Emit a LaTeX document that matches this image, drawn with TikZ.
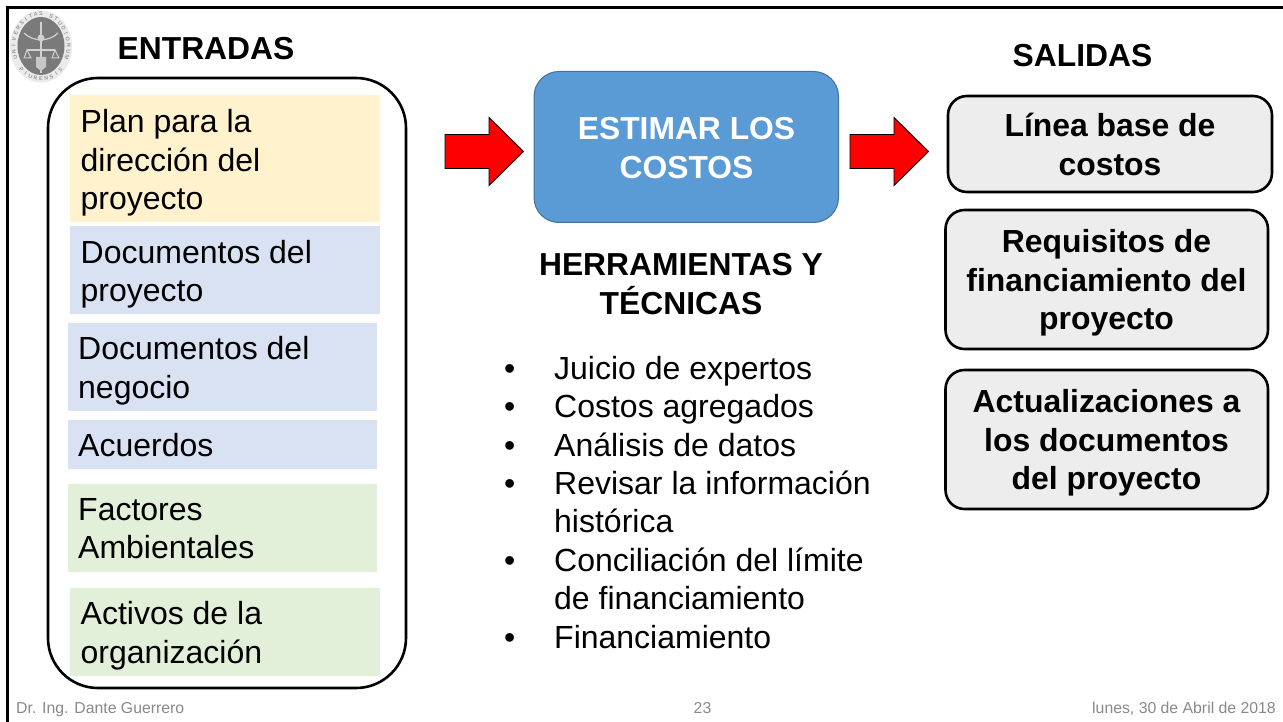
\documentclass[tikz,border=0pt]{standalone}
\usepackage{fontspec}
\setmainfont{Liberation Sans}
\definecolor{cyellow}{HTML}{FFF2CC}
\definecolor{cblue}{HTML}{D9E2F3}
\definecolor{cgreen}{HTML}{E2EFD9}
\definecolor{cmain}{HTML}{5B9BD5}
\definecolor{cmainb}{HTML}{41719C}
\definecolor{cout}{HTML}{EDEDED}
\definecolor{cfoot}{HTML}{898989}
\tikzset{
  x=1pt,y=-1pt,
  inputtext/.style={anchor=north west,inner sep=0pt,align=left,font=\fontsize{32}{38.5}\selectfont},
  outbox/.style={rounded corners=19pt,draw=black,line width=2.6pt,fill=cout},
  outtext/.style={align=center,font=\fontsize{31.9}{38.5}\selectfont\bfseries,inner sep=0pt},
  heading/.style={align=center,font=\fontsize{31.8}{38.5}\selectfont\bfseries,inner sep=0pt},
  redarrow/.style={fill=red,draw=black,line width=0.9pt,line join=miter},
  foot/.style={font=\fontsize{15.8}{19}\selectfont,text=cfoot,inner sep=0pt},
  bullettext/.style={anchor=base west,font=\fontsize{32}{38.5}\selectfont,inner sep=0pt},
  seal/.style={inner sep=0pt,font=\fontsize{5.5}{6}\selectfont\bfseries,text=black!40},
}
\begin{document}
\begin{tikzpicture}
\useasboundingbox (0,0) rectangle (1283,722);
\fill[white] (0,0) rectangle (1283,722);
% slide frame
\draw[line width=2.6pt,black] (7.5,722) -- (7.5,7.5) -- (1283,7.5);
% seal
\fill[black!8] (41,46.5) ellipse (31 and 36);
\fill[black!52] (41,46) ellipse (23.5 and 29);
\draw[black!18,line width=1.2pt] (41,22) -- (41,73);
\draw[black!18,line width=1.2pt] (24,33) .. controls (33,42) and (49,42) .. (58,33);
\draw[black!18,line width=1.2pt] (27,50) -- (55,50);
\draw[black!18,line width=1pt] (27,50) -- (24,58) -- (31,58) -- cycle;
\draw[black!18,line width=1pt] (55,50) -- (52,58) -- (59,58) -- cycle;
\fill[black!18] (41,38) circle (3.5);
\fill[black!22] (36,57) -- (46,57) -- (46,67) -- (41,71) -- (36,67) -- cycle;
\foreach \ch [count=\ii] in {U,N,I,V,E,R,S,I,T,A,S,{},S,T,U,D,I,O,R,U,M}{
  \pgfmathsetmacro{\ang}{200-(\ii-1)*11}
  \node[seal,rotate=\ang-90,name=su\ii] at ({41+27.5*cos(\ang)},{46.5-32.5*sin(\ang)}) {\ch};
}
\foreach \ch [count=\ii] in {P,I,U,R,E,N,S,I,S}{
  \pgfmathsetmacro{\ang}{225+(\ii-1)*11.2}
  \node[seal,rotate=\ang+90,name=sl\ii] at ({41+27.5*cos(\ang)},{46.5-32.5*sin(\ang)}) {\ch};
}
% titles
\node[heading] (entradas) at (206,49) {ENTRADAS};
\node[heading] (salidas) at (1082.5,56) {SALIDAS};
% input container
\draw[line width=2.6pt,black,fill=white,rounded corners=50pt] (48,78) rectangle (406,688);
% inputs
\fill[cyellow] (70,95) rectangle (380,222);
\fill[cblue] (70,226) rectangle (380,314);
\fill[cblue] (68,323) rectangle (377,411);
\fill[cblue] (68,420) rectangle (377,469);
\fill[cgreen] (68,484) rectangle (377,572);
\fill[cgreen] (70,588) rectangle (380,676);
\node[inputtext] (i1) at (80.5,109.5) {Plan para la\\dirección del\\proyecto};
\node[inputtext] (i2) at (80.5,240) {Documentos del\\proyecto};
\node[inputtext] (i3) at (78,336.5) {Documentos del\\negocio};
\node[inputtext] (i4) at (78,433.5) {Acuerdos};
\node[inputtext] (i5) at (78,498) {Factores\\Ambientales};
\node[inputtext] (i6) at (80.5,601.5) {Activos de la\\organización};
% arrows
\draw[redarrow] (445,134.5) -- (489,134.5) -- (489,117.5) -- (523.5,151.5) -- (489,185.5) -- (489,168.5) -- (445,168.5) -- cycle;
\draw[redarrow] (850,134.5) -- (894,134.5) -- (894,117.5) -- (928.5,151.5) -- (894,185.5) -- (894,168.5) -- (850,168.5) -- cycle;
% main box
\draw[fill=cmain,draw=cmainb,line width=1pt,rounded corners=25pt] (534,71.5) rectangle (838.5,222.5);
\node[align=center,text=white,font=\fontsize{31.8}{38.5}\selectfont\bfseries,inner sep=0pt] (main) at (686.5,148) {ESTIMAR LOS\\COSTOS};
% tools
\node[heading] (tools) at (681,284) {HERRAMIENTAS Y\\TÉCNICAS};
\foreach \yy/\tx [count=\ii] in {379/Juicio de expertos,417.5/Costos agregados,456/Análisis de datos,494.5/Revisar la información,532.5/histórica,571.5/Conciliación del límite,609.5/de financiamiento,648/Financiamiento}{
  \node[bullettext,name=t\ii] at (554,\yy) {\tx};
}
\foreach \yy [count=\ii] in {379,417.5,456,494.5,571.5,648}{
  \node[bullettext,name=b\ii] at (504,\yy) {•};
}
% outputs
\draw[outbox] (948,96) rectangle (1272,192);
\node[outtext] (o1) at (1110,144.5) {Línea base de\\costos};
\draw[outbox] (945.5,210) rectangle (1268,349);
\node[outtext] (o2) at (1106.5,283) {Requisitos de\\financiamiento del\\proyecto};
\draw[outbox] (945.5,370) rectangle (1268,509);
\node[outtext] (o3) at (1106.5,443) {Actualizaciones a\\los documentos\\del proyecto};
% footer
\node[foot,anchor=base west] (f1) at (16,713.5) {Dr. Ing. Dante Guerrero};
\node[foot,anchor=base] (f2) at (702.5,713.5) {23};
\node[foot,anchor=base east] (f3) at (1276,713.5) {lunes, 30 de Abril de 2018};
\end{tikzpicture}
\end{document}
